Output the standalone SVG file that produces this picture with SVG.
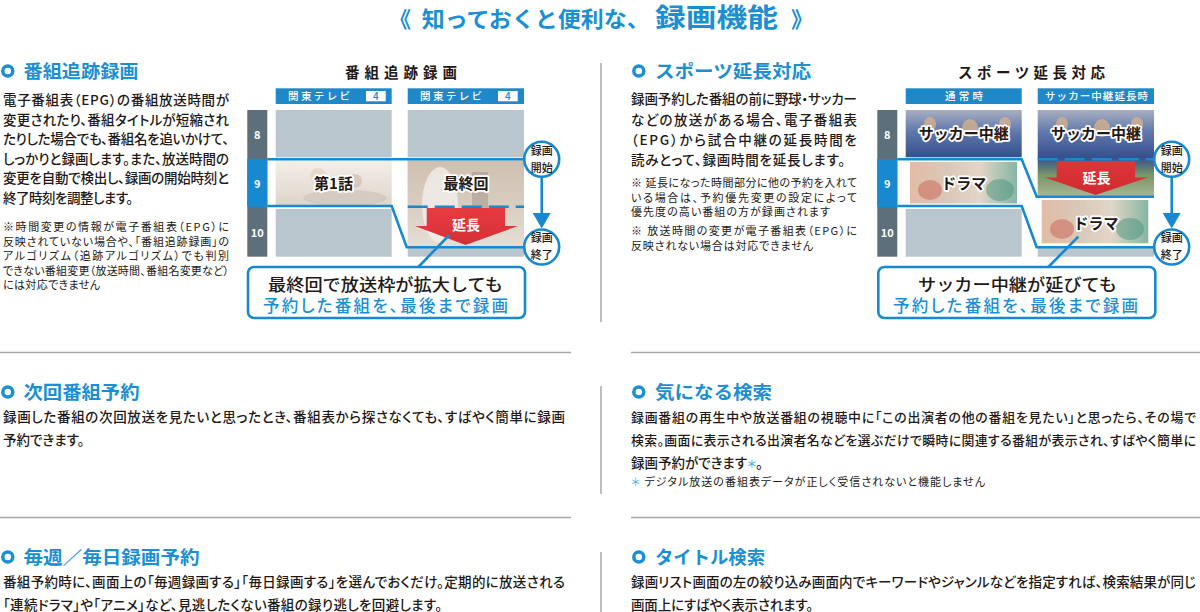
<svg xmlns="http://www.w3.org/2000/svg" width="1200" height="612" viewBox="0 0 1200 612">
<style>
text{font-family:"Noto Sans CJK JP","Noto Sans",sans-serif;}
.body{font-size:13.5px;fill:#231815;font-weight:500;font-feature-settings:"palt";}
.body2{font-size:12.9px;fill:#231815;font-weight:500;font-feature-settings:"palt";}
.note{font-size:11px;fill:#231815;font-weight:400;font-feature-settings:"palt";}
.h{font-size:18px;font-weight:700;fill:#1a8fd4;}
.ring{fill:none;stroke:#1a8fd4;stroke-width:3.5;}
.sep{stroke:#a8a8a8;stroke-width:1.5;}
.hdr{fill:#1e88c9;}
.hdrt{font-size:10.5px;fill:#fff;font-weight:500;}
.time{fill:#5d6f7b;}
.timeb{fill:#1689d0;}
.tl{font-size:11px;font-weight:700;fill:#fff;text-anchor:middle;}
.cell{fill:#b9c6cd;}
.bl{stroke:#1689d0;stroke-width:2.6;fill:none;}
.circ{fill:#fff;stroke:#1689d0;stroke-width:2.6;}
.ct{font-size:11.5px;font-weight:500;fill:#231815;}
.lbl{font-size:15px;font-weight:700;fill:#231815;stroke:#fff;stroke-width:3.5;paint-order:stroke;stroke-linejoin:round;text-anchor:middle;}
.red{fill:url(#redg);}
.redt{font-size:14px;font-weight:700;fill:#fff;text-anchor:middle;}
.dtitle{font-size:14.5px;font-weight:700;fill:#231815;}
.co{font-size:16.5px;font-weight:500;fill:#231815;}
.blue{fill:#1a8fd4;font-feature-settings:"palt";}
.box{fill:#fff;stroke:#1689d0;stroke-width:2.6;}
.fade{fill:#fff;opacity:0.3;}
</style>
<defs>
<linearGradient id="redg" x1="0" y1="0" x2="0" y2="1">
<stop offset="0" stop-color="#e8333a" stop-opacity="0.95"/><stop offset="1" stop-color="#d41c25" stop-opacity="0.9"/>
</linearGradient>
<linearGradient id="living" x1="0" y1="0" x2="0" y2="1">
<stop offset="0" stop-color="#f3efe9"/><stop offset="1" stop-color="#ddd4c9"/>
</linearGradient>
<linearGradient id="wedding" x1="0" y1="0" x2="0" y2="1">
<stop offset="0" stop-color="#b9a690"/><stop offset="0.5" stop-color="#c7b7a4"/><stop offset="1" stop-color="#dcd2c5"/>
</linearGradient>
<linearGradient id="soccer" x1="0" y1="0" x2="0" y2="1">
<stop offset="0" stop-color="#a9afc0"/><stop offset="0.45" stop-color="#6079ad"/><stop offset="1" stop-color="#34508d"/>
</linearGradient>
<linearGradient id="soccer2" x1="0" y1="0" x2="0" y2="1">
<stop offset="0" stop-color="#a9afc0"/><stop offset="0.25" stop-color="#6079ad"/><stop offset="0.55" stop-color="#34508d"/><stop offset="0.75" stop-color="#7a9566"/><stop offset="1" stop-color="#a7b896"/>
</linearGradient>
<linearGradient id="drama" x1="0" y1="0" x2="1" y2="0">
<stop offset="0" stop-color="#e2bca6"/><stop offset="0.35" stop-color="#d9c8b7"/><stop offset="0.65" stop-color="#e2d6c8"/><stop offset="1" stop-color="#86b6a2"/>
</linearGradient>
</defs>

<rect width="1200" height="612" fill="#fff"/>

<g id="title">
<text y="27" style="font-weight:700;fill:#1a8fd4;"><tspan x="389" font-size="22">《</tspan><tspan x="421.7" font-size="22" textLength="228" lengthAdjust="spacingAndGlyphs">知っておくと便利な、</tspan><tspan x="655" font-size="26.5" textLength="123" lengthAdjust="spacingAndGlyphs">録画機能</tspan><tspan x="791" font-size="22">》</tspan></text>
</g>

<g id="dividers">
<line class="sep" x1="601" y1="63" x2="601" y2="322"/>
<line class="sep" x1="601" y1="386" x2="601" y2="494"/>
<line class="sep" x1="601" y1="552" x2="601" y2="612"/>
<line class="sep" x1="0" y1="352.5" x2="571" y2="352.5"/>
<line class="sep" x1="631" y1="352.5" x2="1200" y2="352.5"/>
<line class="sep" x1="0" y1="517.5" x2="571" y2="517.5"/>
<line class="sep" x1="631" y1="517.5" x2="1200" y2="517.5"/>
</g>

<g id="sec-tracking">
<circle class="ring" cx="7.8" cy="71" r="5"/>
<text class="h" x="23.5" y="77.5" textLength="115" lengthAdjust="spacingAndGlyphs">番組追跡録画</text>
<text class="body" x="3" y="105" textLength="226" lengthAdjust="spacing">電子番組表（EPG）の番組放送時間が</text>
<text class="body" x="3" y="124.5" textLength="226" lengthAdjust="spacing">変更されたり、番組タイトルが短縮され</text>
<text class="body" x="3" y="144" textLength="226" lengthAdjust="spacing">たりした場合でも、番組名を追いかけて、</text>
<text class="body" x="3" y="163.5" textLength="226" lengthAdjust="spacing">しっかりと録画します。また、放送時間の</text>
<text class="body" x="3" y="183" textLength="226" lengthAdjust="spacing">変更を自動で検出し、録画の開始時刻と</text>
<text class="body" x="3" y="202.5" textLength="130" lengthAdjust="spacing">終了時刻を調整します。</text>
<text class="note" x="3" y="231" textLength="226" lengthAdjust="spacing">※時間変更の情報が電子番組表（EPG）に</text>
<text class="note" x="3" y="245.5" textLength="226" lengthAdjust="spacing">反映されていない場合や、「番組追跡録画」の</text>
<text class="note" x="3" y="260" textLength="226" lengthAdjust="spacing">アルゴリズム（追跡アルゴリズム）でも判別</text>
<text class="note" x="3" y="274.5" textLength="226" lengthAdjust="spacing">できない番組変更（放送時間、番組名変更など）</text>
<text class="note" x="3" y="289" textLength="97" lengthAdjust="spacing">には対応できません</text>
</g>

<g id="diagram-tracking">
<text class="dtitle" x="345" y="78" textLength="112" lengthAdjust="spacing">番組追跡録画</text>
<g id="tr-header1">
<rect class="hdr" x="275.7" y="88.3" width="116" height="15.7"/>
<text class="hdrt" x="288" y="100" textLength="62" lengthAdjust="spacing">関東テレビ</text>
<rect x="366" y="91" width="19.7" height="10.3" fill="#fff"/>
<text x="375.8" y="100.3" font-size="10" font-weight="500" fill="#1e88c9" text-anchor="middle">4</text>
</g>
<g id="tr-header2">
<rect class="hdr" x="407.7" y="88.3" width="116.3" height="15.7"/>
<text class="hdrt" x="420" y="100" textLength="62" lengthAdjust="spacing">関東テレビ</text>
<rect x="498" y="91" width="19.7" height="10.3" fill="#fff"/>
<text x="507.8" y="100.3" font-size="10" font-weight="500" fill="#1e88c9" text-anchor="middle">4</text>
</g>
<g id="tr-time">
<rect class="time" x="247.3" y="110" width="20" height="146.7"/>
<rect class="timeb" x="247.3" y="159" width="20" height="48"/>
<text class="tl" x="257.3" y="139">8</text>
<text class="tl" x="257.3" y="188">9</text>
<text class="tl" x="257.3" y="237">10</text>
</g>
<g id="tr-col1">
<rect class="cell" x="275.7" y="110" width="116" height="47.3"/>
<rect x="275.7" y="160.5" width="116" height="46" fill="url(#living)"/>
<ellipse cx="318" cy="176" rx="8" ry="8" fill="#e6dacb"/>
<ellipse cx="355" cy="181" rx="7" ry="7" fill="#c9b8a6" opacity="0.6"/>
<ellipse cx="345" cy="198" rx="42" ry="8" fill="#d4ccc2"/>
<rect class="cell" x="275.7" y="209" width="116" height="47.7"/>
<text class="lbl" x="333.5" y="188.5">第1話</text>
</g>
<g id="tr-col2">
<rect class="cell" x="407.7" y="110" width="116.3" height="47.3"/>
<rect x="407.7" y="160.5" width="116.3" height="87.5" fill="url(#wedding)"/>
<ellipse cx="440" cy="205" rx="18" ry="38" fill="#ece9e4" opacity="0.8"/>
<rect x="472" y="172" width="16" height="42" fill="#6c5e52" opacity="0.45"/>
<rect class="fade" x="407.7" y="160.5" width="116.3" height="87.5"/>
<rect class="cell" x="407.7" y="248" width="116.3" height="8.7"/>
<text class="lbl" x="466" y="188.5">最終回</text>
<path class="red" d="M426.7,208 H505 V226 H518 L465.5,245 L415,226 H426.7 Z"/>
<text class="redt" x="466" y="229.5">延長</text>
</g>
<g id="tr-start">
<circle class="circ" cx="541.7" cy="159.3" r="17.5"/>
<text class="ct"><tspan x="530.7" y="154.5" textLength="22" lengthAdjust="spacingAndGlyphs">録画</tspan><tspan x="530.7" y="171.5" textLength="22" lengthAdjust="spacingAndGlyphs">開始</tspan></text>
</g>
<g id="tr-end">
<circle class="circ" cx="541.7" cy="247" r="17.5"/>
<text class="ct"><tspan x="530.7" y="242.3" textLength="22" lengthAdjust="spacingAndGlyphs">録画</tspan><tspan x="530.7" y="259.3" textLength="22" lengthAdjust="spacingAndGlyphs">終了</tspan></text>
</g>
<g id="tr-callout">
<rect class="box" x="248" y="267" width="277" height="51" rx="6"/>
<text class="co"><tspan x="268" y="290.5" textLength="235" lengthAdjust="spacingAndGlyphs">最終回で放送枠が拡大しても</tspan><tspan class="blue" x="263" y="312" textLength="245" lengthAdjust="spacing">予約した番組を、最後まで録画</tspan></text>
</g>
</g>

<g id="sec-sports">
<circle class="ring" cx="638.8" cy="71" r="5"/>
<text class="h" x="655" y="77.5" textLength="156" lengthAdjust="spacingAndGlyphs">スポーツ延長対応</text>
<text class="body" x="631" y="104" textLength="226" lengthAdjust="spacing">録画予約した番組の前に野球・サッカー</text>
<text class="body" x="631" y="124.5" textLength="226" lengthAdjust="spacing">などの放送がある場合、電子番組表</text>
<text class="body" x="631" y="145" textLength="226" lengthAdjust="spacing">（EPG）から試合中継の延長時間を</text>
<text class="body" x="631" y="165" textLength="214" lengthAdjust="spacing">読みとって、録画時間を延長します。</text>
<text class="note" x="631" y="186.5" textLength="226" lengthAdjust="spacing">※ 延長になった時間部分に他の予約を入れて</text>
<text class="note" x="631" y="201.5" textLength="226" lengthAdjust="spacing">いる場合は、予約優先変更の設定によって</text>
<text class="note" x="631" y="216" textLength="199" lengthAdjust="spacing">優先度の高い番組の方が録画されます</text>
<text class="note" x="631" y="234.5" textLength="226" lengthAdjust="spacing">※ 放送時間の変更が電子番組表（EPG）に</text>
<text class="note" x="631" y="250" textLength="182" lengthAdjust="spacing">反映されない場合は対応できません</text>
</g>

<g id="diagram-sports">
<text class="dtitle" x="958" y="78" textLength="147" lengthAdjust="spacing">スポーツ延長対応</text>
<g id="sp-header1">
<rect class="hdr" x="905.7" y="88.3" width="116" height="15.7"/>
<text class="hdrt" x="945" y="100" textLength="38" lengthAdjust="spacing">通常時</text>
</g>
<g id="sp-header2">
<rect class="hdr" x="1037.7" y="88.3" width="116.3" height="15.7"/>
<text class="hdrt" x="1045" y="100" textLength="103" lengthAdjust="spacing">サッカー中継延長時</text>
</g>
<g id="sp-time">
<rect class="time" x="877.3" y="110" width="20" height="146.7"/>
<rect class="timeb" x="877.3" y="159" width="20" height="48"/>
<text class="tl" x="887.3" y="139">8</text>
<text class="tl" x="887.3" y="188">9</text>
<text class="tl" x="887.3" y="237">10</text>
</g>
<g id="sp-col1">
<rect x="905.7" y="110" width="116" height="47.3" fill="url(#soccer)"/>
<ellipse cx="930" cy="124" rx="6" ry="7" fill="#d4b08f" opacity="0.8"/>
<ellipse cx="970" cy="128" rx="8" ry="9" fill="#d4b08f" opacity="0.8"/>
<ellipse cx="1005" cy="124" rx="6" ry="7" fill="#d4b08f" opacity="0.8"/>
<rect x="910" y="162" width="107" height="41.5" fill="url(#drama)"/>
<ellipse cx="930" cy="190" rx="12" ry="10" fill="#c8554a" opacity="0.45"/>
<ellipse cx="1000" cy="190" rx="14" ry="11" fill="#3f8f78" opacity="0.45"/>
<rect class="cell" x="905.7" y="209" width="116" height="47.7"/>
<text class="lbl" x="963.7" y="138.5">サッカー中継</text>
<text class="lbl" x="963.7" y="188.5">ドラマ</text>
</g>
<g id="sp-col2">
<rect x="1037.7" y="110" width="116.3" height="86.7" fill="url(#soccer2)"/>
<ellipse cx="1062" cy="124" rx="6" ry="7" fill="#d4b08f" opacity="0.8"/>
<ellipse cx="1102" cy="128" rx="8" ry="9" fill="#d4b08f" opacity="0.8"/>
<ellipse cx="1137" cy="124" rx="6" ry="7" fill="#d4b08f" opacity="0.8"/>
<rect x="1041.7" y="200" width="106.6" height="43.3" fill="url(#drama)"/>
<ellipse cx="1062" cy="229" rx="12" ry="10" fill="#c8554a" opacity="0.45"/>
<ellipse cx="1130" cy="229" rx="14" ry="11" fill="#3f8f78" opacity="0.45"/>
<rect class="cell" x="1037.7" y="248" width="116.3" height="8.7"/>
<text class="lbl" x="1096" y="138.5">サッカー中継</text>
<path class="red" d="M1056.7,161 H1135 V177.5 H1148 L1095.5,195 L1045,177.5 H1056.7 Z"/>
<text class="redt" x="1096.5" y="182.5">延長</text>
<text class="lbl" x="1096" y="228.5">ドラマ</text>
</g>
<g id="sp-start">
<circle class="circ" cx="1171.7" cy="159.3" r="17.5"/>
<text class="ct"><tspan x="1160.7" y="154.5" textLength="22" lengthAdjust="spacingAndGlyphs">録画</tspan><tspan x="1160.7" y="171.5" textLength="22" lengthAdjust="spacingAndGlyphs">開始</tspan></text>
</g>
<g id="sp-end">
<circle class="circ" cx="1171.7" cy="247" r="17.5"/>
<text class="ct"><tspan x="1160.7" y="242.3" textLength="22" lengthAdjust="spacingAndGlyphs">録画</tspan><tspan x="1160.7" y="259.3" textLength="22" lengthAdjust="spacingAndGlyphs">終了</tspan></text>
</g>
<g id="sp-callout">
<rect class="box" x="878.3" y="267" width="277" height="51" rx="6"/>
<text class="co"><tspan x="918" y="290.5" textLength="199" lengthAdjust="spacingAndGlyphs">サッカー中継が延びても</tspan><tspan class="blue" x="893" y="312" textLength="245" lengthAdjust="spacing">予約した番組を、最後まで録画</tspan></text>
</g>
</g>

<g id="connectors">
<path class="bl" d="M267.3,159.3 H524.2"/>
<path class="bl" d="M267.3,206 H391.7 L406.7,247.3 H524.2"/>
<path class="bl" d="M407.7,206.7 H524" stroke-dasharray="20 7"/>
<path class="bl" d="M541.7,176.8 V214"/>
<polygon points="532.7,213 550.7,213 541.7,228.5" fill="#1689d0"/>
<path class="bl" d="M418.3,267 L449.3,235"/>
<path class="bl" d="M897.3,159.3 H1021.7 L1036.7,196.7 H1154"/>
<path class="bl" d="M1037.7,159.3 H1154.2" stroke-dasharray="20 7"/>
<path class="bl" d="M897.3,206 H1021.7 L1036.7,247.3 H1154.2"/>
<path class="bl" d="M1171.7,176.8 V214"/>
<polygon points="1162.7,213 1180.7,213 1171.7,228.5" fill="#1689d0"/>
<path class="bl" d="M1048.3,267 L1078.3,236.7"/>
</g>

<g id="sec-next">
<circle class="ring" cx="7.8" cy="392" r="5"/>
<text class="h" x="23.5" y="398.5" textLength="116" lengthAdjust="spacingAndGlyphs">次回番組予約</text>
<text class="body" x="3" y="422" textLength="562" lengthAdjust="spacing">録画した番組の次回放送を見たいと思ったとき、番組表から探さなくても、すばやく簡単に録画</text>
<text class="body" x="3" y="445">予約できます。</text>
</g>

<g id="sec-search">
<circle class="ring" cx="638.8" cy="392" r="5"/>
<text class="h" x="655" y="398.5" textLength="117" lengthAdjust="spacingAndGlyphs">気になる検索</text>
<text class="body2" x="631" y="422" textLength="565" lengthAdjust="spacing">録画番組の再生中や放送番組の視聴中に「この出演者の他の番組を見たい」と思ったら、その場で</text>
<text class="body2" x="631" y="445" textLength="565" lengthAdjust="spacing">検索。画面に表示される出演者名などを選ぶだけで瞬時に関連する番組が表示され、すばやく簡単に</text>
<text class="body" x="631" y="468">録画予約ができます<tspan fill="#4aaee6" font-size="11">＊</tspan>。</text>
<text class="note" x="631" y="485.5" font-size="10.5" textLength="354" lengthAdjust="spacing"><tspan fill="#4aaee6">＊</tspan> デジタル放送の番組表データが正しく受信されないと機能しません</text>
</g>

<g id="sec-weekly">
<circle class="ring" cx="7.8" cy="557" r="5"/>
<text class="h" x="23.5" y="563.5" textLength="176" lengthAdjust="spacingAndGlyphs">毎週／毎日録画予約</text>
<text class="body" x="3" y="587" textLength="562" lengthAdjust="spacing">番組予約時に、画面上の「毎週録画する」「毎日録画する」を選んでおくだけ。定期的に放送される</text>
<text class="body" x="3" y="610" textLength="439" lengthAdjust="spacing">「連続ドラマ」や「アニメ」など、見逃したくない番組の録り逃しを回避します。</text>
</g>

<g id="sec-title-search">
<circle class="ring" cx="638.8" cy="557" r="5"/>
<text class="h" x="655" y="563.5" textLength="110" lengthAdjust="spacingAndGlyphs">タイトル検索</text>
<text class="body" x="631" y="587" textLength="565" lengthAdjust="spacing">録画リスト画面の左の絞り込み画面内でキーワードやジャンルなどを指定すれば、検索結果が同じ</text>
<text class="body" x="631" y="610" textLength="182" lengthAdjust="spacing">画面上にすばやく表示されます。</text>
</g>
</svg>
